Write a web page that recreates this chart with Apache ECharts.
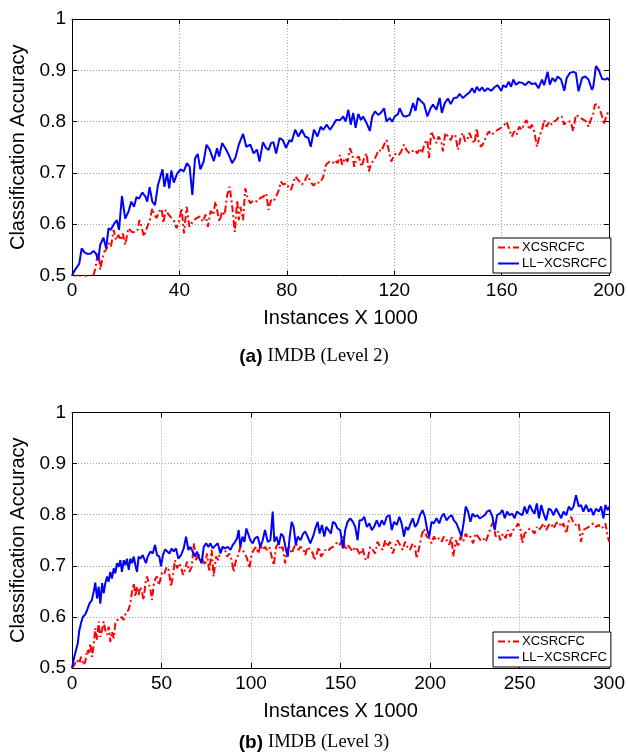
<!DOCTYPE html>
<html>
<head>
<meta charset="utf-8">
<script src="https://cdn.jsdelivr.net/npm/echarts@6/dist/echarts.min.js"></script>
<style>
  html, body { margin: 0; padding: 0; background: #fff; }
  #chart { width: 628px; height: 754px; }
</style>
</head>
<body>
<div id="chart"></div>
<script>
  // names and ticks
  var seriesNames = ['XCSRCFC', 'LL−XCSRCFC']
  var level2Ticks = [0, 40, 80, 120, 160, 200]
  var level3Ticks = [0, 50, 100, 150, 200, 250, 300]
  var accuracyTicks = [0.5, 0.6, 0.7, 0.8, 0.9, 1]

  // (a) IMDB Level 2 : [instances x 1000, accuracy]
  var level2Xcs = [
    [0, 0.49], [1.5, 0.5], [3, 0.497], [4.5, 0.5], [6, 0.495], [7.5, 0.49],
    [8.7, 0.514], [9.3, 0.534], [9.9, 0.546], [10.5, 0.511], [11.1, 0.527], [12, 0.546], [12.7, 0.55],
    [13.6, 0.563], [14.5, 0.556], [15.5, 0.589], [16.4, 0.569], [17.3, 0.579], [18.2, 0.569], [18.9, 0.582],
    [19.8, 0.56], [21, 0.592], [22.3, 0.585], [23.5, 0.584], [24.4, 0.589], [25.1, 0.608], [26, 0.592],
    [26.8, 0.576], [27.8, 0.592], [29, 0.608], [29.9, 0.631], [30.7, 0.618], [31.5, 0.612], [32.5, 0.625],
    [33.4, 0.63], [34, 0.602], [34.9, 0.628], [35.9, 0.619], [37.1, 0.612], [37.9, 0.608], [38.9, 0.592],
    [39.8, 0.605], [40.8, 0.631], [41.7, 0.582], [42.7, 0.634], [43.7, 0.595], [44.9, 0.605], [46.4, 0.612],
    [47.6, 0.615], [48.8, 0.605], [49.7, 0.619], [50.6, 0.595], [51.6, 0.626], [52.6, 0.618], [53.4, 0.644],
    [54, 0.628], [54.9, 0.605], [55.9, 0.625], [56.8, 0.618], [57.8, 0.657], [58.7, 0.673], [59.6, 0.638],
    [60.6, 0.585], [61.5, 0.647], [62.1, 0.608], [62.7, 0.634], [63.7, 0.608], [64.5, 0.67], [65.4, 0.651],
    [66.4, 0.641], [67.6, 0.647], [68.9, 0.644], [70.1, 0.651], [71.3, 0.654], [72.3, 0.66], [73.2, 0.628],
    [74.1, 0.647], [75, 0.644], [76, 0.654], [76.9, 0.665], [77.8, 0.683], [78.7, 0.677], [79.7, 0.68],
    [80.6, 0.673], [81.5, 0.667], [82.2, 0.677], [83.1, 0.693], [84.3, 0.686], [85.6, 0.677], [86.8, 0.686],
    [87.7, 0.696], [88.7, 0.684], [89.9, 0.675], [91.1, 0.683], [92.1, 0.68], [93.4, 0.69], [94.6, 0.716],
    [95.8, 0.722], [97.1, 0.719], [97.9, 0.725], [98.9, 0.719], [99.8, 0.735], [100.6, 0.716], [101.6, 0.729],
    [102.6, 0.722], [103.5, 0.748], [104.4, 0.735], [105.1, 0.712], [106, 0.729], [106.8, 0.732], [107.8, 0.712],
    [108.8, 0.729], [109.7, 0.738], [110.5, 0.703], [111.5, 0.719], [112.5, 0.725], [113.4, 0.735], [114.2, 0.745],
    [115.2, 0.742], [116.2, 0.755], [117.1, 0.764], [117.9, 0.745], [118.9, 0.722], [119.9, 0.735], [120.8, 0.738],
    [121.7, 0.735], [122.6, 0.742], [123.6, 0.755], [124.5, 0.745], [125.7, 0.738], [126.6, 0.742], [127.6, 0.745],
    [128.6, 0.738], [129.5, 0.748], [130.3, 0.738], [131.3, 0.758], [132.3, 0.764], [132.9, 0.729], [133.8, 0.781],
    [134.8, 0.768], [135.7, 0.758], [136.5, 0.771], [137.5, 0.761], [138.1, 0.742], [139, 0.778], [140, 0.771],
    [141, 0.764], [141.8, 0.774], [142.7, 0.774], [143.7, 0.745], [144.7, 0.768], [145.5, 0.778], [146.4, 0.761],
    [147.4, 0.768], [148, 0.778], [149, 0.764], [149.9, 0.758], [150.7, 0.787], [151.4, 0.761], [152.3, 0.751],
    [153.2, 0.758], [154.2, 0.771], [155.2, 0.781], [156.1, 0.774], [157.3, 0.779], [158.5, 0.784], [159.8, 0.788],
    [161, 0.794], [161.8, 0.8], [162.8, 0.784], [163.8, 0.771], [164.7, 0.781], [165.5, 0.774], [166.5, 0.79],
    [167.5, 0.784], [168.4, 0.797], [169.2, 0.803], [170.3, 0.784], [171.2, 0.794], [172.1, 0.781], [173.1, 0.751],
    [174, 0.771], [175, 0.784], [175.8, 0.803], [176.7, 0.79], [177.7, 0.8], [178.7, 0.794], [179.5, 0.8],
    [180.4, 0.803], [181.4, 0.81], [182.4, 0.81], [183.2, 0.794], [184.1, 0.8], [184.8, 0.797], [185.7, 0.8],
    [186.6, 0.781], [187.6, 0.813], [188.6, 0.81], [189.4, 0.807], [190.7, 0.803], [191.5, 0.8], [192.3, 0.79],
    [193.1, 0.803], [194, 0.813], [194.7, 0.833], [195.6, 0.834], [196.5, 0.823], [197.4, 0.81], [198, 0.794],
    [198.9, 0.81], [200, 0.823]
  ]
  var level2Ll = [
    [0, 0.5], [1, 0.51], [2.7, 0.523], [3.6, 0.553], [4.6, 0.545], [5.8, 0.542], [7, 0.543], [8, 0.548],
    [8.9, 0.543], [9.8, 0.53], [10.5, 0.56], [11.7, 0.574], [12.7, 0.553], [13.6, 0.592], [14.4, 0.589],
    [15.7, 0.601], [16.7, 0.608], [17.5, 0.589], [18.6, 0.655], [19.8, 0.611], [21, 0.624], [22.1, 0.644],
    [23.1, 0.634], [24, 0.653], [25, 0.65], [26.2, 0.662], [27.4, 0.653], [28, 0.644], [28.9, 0.672],
    [29.9, 0.644], [30.9, 0.637], [32, 0.676], [32.7, 0.673], [33.7, 0.707], [34.4, 0.673], [35.4, 0.699],
    [36.2, 0.67], [37, 0.705], [37.9, 0.681], [39.1, 0.698], [40.4, 0.707], [41.6, 0.703], [42.8, 0.719],
    [43.8, 0.712], [44.8, 0.657], [45.8, 0.728], [46.8, 0.737], [47.8, 0.707], [49, 0.722], [50.1, 0.755],
    [51.3, 0.745], [52.8, 0.723], [54, 0.748], [54.8, 0.732], [55.9, 0.758], [57.1, 0.748], [58.4, 0.735],
    [59.6, 0.719], [60.8, 0.729], [62.1, 0.755], [63.7, 0.776], [64.9, 0.751], [66.4, 0.755], [67.6, 0.738],
    [68.9, 0.745], [69.8, 0.722], [71.1, 0.76], [72.3, 0.748], [73.2, 0.745], [74.1, 0.758], [75, 0.76],
    [76, 0.738], [77.3, 0.768], [78.5, 0.764], [79.7, 0.749], [81, 0.764], [81.8, 0.761], [83.1, 0.784],
    [84.3, 0.771], [85.6, 0.784], [86.8, 0.771], [88, 0.768], [88.9, 0.751], [90.1, 0.784], [91.4, 0.771],
    [92.6, 0.79], [93.6, 0.784], [94.8, 0.794], [96.1, 0.784], [97.3, 0.794], [98.3, 0.803], [99.8, 0.803],
    [101, 0.81], [101.9, 0.8], [102.9, 0.823], [103.8, 0.794], [104.7, 0.817], [105.6, 0.788], [106.6, 0.815],
    [107.6, 0.803], [108.4, 0.81], [109.7, 0.797], [110.9, 0.782], [111.8, 0.81], [112.8, 0.82], [114, 0.813],
    [115, 0.817], [116.2, 0.826], [117.1, 0.8], [118.3, 0.807], [119.2, 0.8], [120.2, 0.81], [121.4, 0.815],
    [122, 0.826], [123.3, 0.811], [124.5, 0.81], [125.7, 0.813], [127, 0.836], [127.9, 0.821], [128.8, 0.846],
    [130.1, 0.839], [131.1, 0.834], [132.3, 0.81], [133.5, 0.826], [134.4, 0.833], [135.7, 0.823], [136.9, 0.846],
    [137.7, 0.817], [138.8, 0.836], [140, 0.845], [141, 0.834], [142.2, 0.846], [143.4, 0.847], [144.3, 0.854],
    [145.5, 0.846], [146.8, 0.852], [148, 0.857], [149, 0.865], [149.9, 0.856], [150.7, 0.868], [151.7, 0.86],
    [152.7, 0.867], [153.6, 0.859], [154.8, 0.865], [156.1, 0.86], [157.3, 0.867], [158.5, 0.871], [159.8, 0.86],
    [160.6, 0.871], [161.6, 0.867], [162.6, 0.878], [163.5, 0.868], [164.3, 0.882], [165.3, 0.872], [166.5, 0.877],
    [167.8, 0.875], [168.8, 0.871], [170, 0.878], [171.3, 0.873], [172.5, 0.875], [173.7, 0.865], [175, 0.882],
    [175.8, 0.871], [177.1, 0.897], [177.9, 0.872], [178.9, 0.885], [179.9, 0.878], [180.8, 0.888], [182.1, 0.882],
    [183.3, 0.86], [184.2, 0.885], [185.4, 0.895], [186.7, 0.897], [187.6, 0.895], [188.6, 0.859], [189.9, 0.885],
    [191.1, 0.888], [192.3, 0.882], [193.6, 0.862], [194.1, 0.868], [195.1, 0.908], [196.1, 0.901], [197.4, 0.883],
    [198.6, 0.882], [199.4, 0.885], [200, 0.88]
  ]

  // (b) IMDB Level 3
  var level3Xcs = [
    [0, 0.5], [1.3, 0.506], [2.8, 0.516], [4.1, 0.509], [5, 0.522], [6.3, 0.506], [7.4, 0.512], [8.4, 0.535],
    [9.3, 0.529], [10.2, 0.548], [11.2, 0.522], [12.1, 0.545], [13, 0.578], [14, 0.555], [14.9, 0.591],
    [15.8, 0.561], [16.8, 0.574], [17.7, 0.591], [18.6, 0.574], [19.6, 0.565], [20.5, 0.581], [21.4, 0.551],
    [22.3, 0.571], [23.3, 0.558], [24.2, 0.587], [25.1, 0.594], [26.4, 0.594], [27.7, 0.6], [28.9, 0.594],
    [30.2, 0.61], [31.5, 0.613], [32.6, 0.626], [33.5, 0.649], [34.5, 0.666], [35.4, 0.64], [36.3, 0.659],
    [37.2, 0.643], [38.2, 0.659], [39.1, 0.649], [40, 0.633], [41, 0.666], [41.9, 0.679], [42.8, 0.682],
    [43.8, 0.653], [44.7, 0.633], [45.6, 0.662], [46.6, 0.675], [47.5, 0.679], [48.4, 0.662], [49.3, 0.672],
    [50.3, 0.688], [51.6, 0.685], [52.9, 0.698], [54, 0.692], [55.3, 0.659], [56.4, 0.682], [57.5, 0.711],
    [58.7, 0.695], [59.8, 0.705], [60.9, 0.698], [62, 0.682], [63.1, 0.692], [64.2, 0.708], [65.5, 0.688],
    [66.9, 0.698], [68, 0.744], [69.3, 0.711], [70.6, 0.724], [71.7, 0.714], [73, 0.711], [74.3, 0.701],
    [75.4, 0.724], [76.7, 0.688], [78, 0.731], [79.1, 0.679], [80.4, 0.718], [81.8, 0.711], [82.9, 0.731],
    [84.2, 0.737], [85.5, 0.731], [86.6, 0.718], [87.9, 0.724], [89.2, 0.711], [90.3, 0.688], [91.6, 0.711],
    [92.9, 0.721], [94, 0.737], [95.3, 0.731], [96.6, 0.724], [97.8, 0.714], [99.1, 0.695], [100.4, 0.724],
    [101.5, 0.731], [102.8, 0.737], [104.1, 0.724], [105.2, 0.741], [106.5, 0.731], [107.8, 0.737], [108.9, 0.731],
    [110.2, 0.737], [111.5, 0.718], [112.7, 0.701], [114, 0.737], [115.3, 0.744], [116.4, 0.731], [117.7, 0.737],
    [119, 0.705], [120.1, 0.731], [121.4, 0.737], [122.7, 0.724], [123.8, 0.734], [125.1, 0.744], [126.4, 0.731],
    [127.6, 0.737], [129.1, 0.734], [130.3, 0.721], [131.6, 0.737], [133.1, 0.731], [134.6, 0.724], [135.3, 0.711],
    [136.5, 0.721], [137.8, 0.737], [139.1, 0.718], [140.2, 0.724], [141.5, 0.731], [142.8, 0.728], [144.2, 0.734],
    [145.7, 0.737], [147, 0.741], [148.3, 0.747], [149.8, 0.741], [151.3, 0.757], [152.6, 0.731], [153.9, 0.741],
    [155.4, 0.734], [156.9, 0.728], [158.2, 0.737], [159.5, 0.731], [160.9, 0.721], [162.4, 0.734], [163.7, 0.714],
    [165, 0.711], [166.5, 0.737], [168, 0.731], [169.3, 0.724], [170.6, 0.747], [172.1, 0.737], [173.6, 0.731],
    [174.9, 0.75], [176.2, 0.737], [177.6, 0.747], [179.1, 0.724], [180.4, 0.737], [181.7, 0.75], [183.2, 0.741],
    [184.7, 0.731], [186, 0.747], [187.3, 0.737], [188.8, 0.731], [190.3, 0.744], [191.6, 0.737], [192.5, 0.714],
    [194, 0.737], [195.3, 0.76], [196.6, 0.773], [198.1, 0.757], [199.5, 0.754], [200.8, 0.744], [202.1, 0.757],
    [203.6, 0.75], [205.1, 0.754], [206.4, 0.747], [207.7, 0.757], [209.2, 0.75], [210.7, 0.741], [212, 0.757],
    [212.9, 0.718], [214.4, 0.75], [215.7, 0.737], [217, 0.757], [218.5, 0.747], [219.9, 0.763], [221.2, 0.754],
    [222.5, 0.757], [224, 0.744], [225.5, 0.763], [226.8, 0.757], [228.1, 0.75], [229.6, 0.754], [231.1, 0.747],
    [232.4, 0.76], [233.7, 0.773], [235.2, 0.786], [236.6, 0.757], [237.9, 0.767], [239.2, 0.75], [240.7, 0.763],
    [242.2, 0.754], [243.5, 0.77], [244.8, 0.757], [246.3, 0.77], [247.8, 0.773], [249.1, 0.783], [250.4, 0.773],
    [251.5, 0.744], [252.8, 0.763], [254.1, 0.767], [255.6, 0.773], [257, 0.77], [258.3, 0.763], [259.6, 0.776],
    [260.8, 0.77], [262.1, 0.776], [263.4, 0.783], [264.8, 0.77], [266.3, 0.78], [267.6, 0.783], [268.9, 0.773],
    [270.4, 0.783], [271.9, 0.786], [273.2, 0.776], [274.5, 0.783], [276, 0.763], [277.5, 0.789], [278.8, 0.796],
    [280.1, 0.783], [281.5, 0.78], [283, 0.783], [284.3, 0.747], [285.6, 0.77], [287.1, 0.773], [288.6, 0.776],
    [289.9, 0.78], [291.2, 0.783], [292.7, 0.776], [294.2, 0.78], [295.5, 0.773], [296.8, 0.776], [297.9, 0.783],
    [299.2, 0.757], [300, 0.747]
  ]
  var level3Ll = [
    [0, 0.5], [1.3, 0.522], [2.2, 0.525], [3.2, 0.548], [4.1, 0.574], [5, 0.587], [6, 0.6], [7.3, 0.604],
    [8.4, 0.613], [9.7, 0.626], [11, 0.632], [12.1, 0.649], [13, 0.667], [14, 0.636], [14.9, 0.659],
    [15.8, 0.626], [16.8, 0.666], [17.7, 0.646], [18.6, 0.666], [19.6, 0.679], [20.5, 0.669], [21.4, 0.688],
    [22.3, 0.675], [23.3, 0.695], [24.2, 0.685], [25.1, 0.705], [26.1, 0.698], [27, 0.711], [27.9, 0.688],
    [28.9, 0.711], [29.8, 0.701], [30.7, 0.714], [31.7, 0.692], [32.6, 0.714], [33.5, 0.705], [34.5, 0.718],
    [35.4, 0.701], [36.3, 0.688], [37.2, 0.718], [38.2, 0.714], [39.5, 0.721], [40.4, 0.724], [41.3, 0.705],
    [42.3, 0.718], [43.8, 0.728], [45.1, 0.724], [46.4, 0.741], [47.5, 0.721], [48.8, 0.718], [49.7, 0.699],
    [50.8, 0.721], [52, 0.732], [53.1, 0.734], [54.4, 0.724], [55.7, 0.734], [56.8, 0.728], [58.1, 0.734],
    [59.4, 0.714], [60.9, 0.721], [62.4, 0.734], [63.7, 0.757], [65, 0.731], [66.1, 0.737], [67.4, 0.728],
    [68.7, 0.718], [69.8, 0.728], [71.1, 0.714], [72.4, 0.705], [73.6, 0.737], [74.9, 0.744], [76.2, 0.737],
    [77.3, 0.744], [78.6, 0.734], [79.9, 0.739], [81.4, 0.744], [82.9, 0.724], [84.2, 0.737], [85.5, 0.734],
    [87, 0.737], [88.5, 0.731], [89.8, 0.741], [91.1, 0.747], [92.2, 0.754], [93.1, 0.77], [94, 0.737],
    [95.2, 0.757], [96.3, 0.747], [97.4, 0.773], [98.5, 0.776], [99.6, 0.75], [100.9, 0.744], [102.2, 0.754],
    [103.7, 0.757], [105.2, 0.737], [106.5, 0.75], [107.8, 0.77], [109.3, 0.747], [110.8, 0.75], [112.1, 0.806],
    [113, 0.747], [114.2, 0.757], [115.5, 0.741], [116.8, 0.763], [118.1, 0.757], [119.2, 0.737], [120.5, 0.718],
    [121.6, 0.757], [122.7, 0.786], [123.8, 0.776], [125, 0.741], [126.1, 0.757], [127.6, 0.75], [129.1, 0.763],
    [130.3, 0.767], [131.6, 0.757], [133.1, 0.744], [134.6, 0.757], [135.9, 0.773], [137.2, 0.786], [138.3, 0.763],
    [139.6, 0.78], [140.9, 0.757], [142, 0.776], [143.3, 0.77], [144.6, 0.763], [145.7, 0.786], [147, 0.783],
    [148.3, 0.773], [149.8, 0.77], [151.3, 0.734], [152.6, 0.77], [153.9, 0.786], [155.4, 0.793], [156.9, 0.786],
    [158.2, 0.776], [159.5, 0.75], [160.6, 0.789], [161.9, 0.789], [163.2, 0.796], [164.7, 0.776], [166.1, 0.783],
    [167.4, 0.77], [168.7, 0.776], [170.2, 0.789], [171.7, 0.776], [173, 0.789], [174.3, 0.78], [175.8, 0.796],
    [177.3, 0.799], [178.6, 0.77], [179.9, 0.786], [181.4, 0.78], [182.8, 0.796], [184.1, 0.783], [185.4, 0.757],
    [186.5, 0.776], [187.8, 0.77], [189.1, 0.783], [190.3, 0.793], [191.6, 0.776], [192.9, 0.783], [194.3, 0.799],
    [195.8, 0.809], [197.1, 0.796], [198.4, 0.77], [199.5, 0.757], [200.8, 0.786], [202.1, 0.783], [203.6, 0.793],
    [205.1, 0.783], [206.4, 0.796], [207.7, 0.802], [209.2, 0.789], [210.7, 0.796], [212, 0.799], [213.3, 0.789],
    [214.7, 0.783], [216.2, 0.77], [217.5, 0.757], [218.8, 0.786], [219.9, 0.816], [221.2, 0.806], [222.5, 0.786],
    [223.7, 0.802], [225, 0.796], [226.3, 0.799], [227.7, 0.793], [229.2, 0.796], [230.5, 0.799], [231.8, 0.806],
    [233.3, 0.809], [234.8, 0.796], [236.1, 0.77], [237.4, 0.799], [238.9, 0.802], [240.4, 0.809], [241.7, 0.793],
    [243, 0.806], [244.4, 0.799], [245.9, 0.802], [247.2, 0.793], [248.5, 0.806], [250, 0.802], [251.5, 0.799],
    [252.8, 0.816], [254.1, 0.802], [255.6, 0.819], [257, 0.809], [258.3, 0.802], [259.6, 0.822], [260.8, 0.793],
    [262.1, 0.819], [263.4, 0.802], [264.8, 0.789], [266.3, 0.812], [267.6, 0.809], [268.9, 0.799], [270.4, 0.812],
    [271.9, 0.802], [273.2, 0.793], [274.5, 0.806], [276, 0.799], [277.5, 0.816], [278.8, 0.809], [280.1, 0.816],
    [281.5, 0.838], [283, 0.816], [284.3, 0.819], [285.6, 0.806], [287.1, 0.819], [288.6, 0.806], [289.9, 0.812],
    [291.2, 0.799], [292.7, 0.812], [294.2, 0.806], [295.5, 0.816], [296.8, 0.793], [297.9, 0.819], [299.2, 0.809],
    [300, 0.816]
  ]

  var font = 'Liberation Sans, Arial, Helvetica, sans-serif'
  var redDash = [7, 3, 2, 3]

  // axes for one panel: bottom + top x, left + right y (matlab style box with ticks inside)
  function xAxes(gridIndex, ticks) {
    var common = {
      type: 'value', gridIndex: gridIndex,
      min: ticks[0], max: ticks[ticks.length - 1], interval: ticks[1] - ticks[0],
      axisLine: { show: true, onZero: false, lineStyle: { color: '#000', width: 1 } },
      axisTick: { show: true, inside: true, length: 5, lineStyle: { color: '#000' } }
    }
    return [
      Object.assign({}, common, {
        position: 'bottom',
        name: 'Instances X 1000', nameLocation: 'middle', nameGap: 33,
        nameTextStyle: { fontSize: 20, color: '#000', fontFamily: font },
        axisLabel: { fontSize: 19, color: '#000', margin: 6, fontFamily: font },
        splitLine: { show: true, lineStyle: { color: '#a0a0a0', width: 1, type: [1, 2] } }
      }),
      Object.assign({}, common, { position: 'top', axisLabel: { show: false }, splitLine: { show: false } })
    ]
  }
  function yAxes(gridIndex) {
    var common = {
      type: 'value', gridIndex: gridIndex,
      min: accuracyTicks[0], max: accuracyTicks[accuracyTicks.length - 1], interval: 0.1,
      axisLine: { show: true, onZero: false, lineStyle: { color: '#000', width: 1 } },
      axisTick: { show: true, inside: true, length: 5, lineStyle: { color: '#000' } }
    }
    return [
      Object.assign({}, common, {
        position: 'left',
        name: 'Classification Accuracy', nameLocation: 'middle', nameGap: 44,
        nameTextStyle: { fontSize: 20, color: '#000', fontFamily: font },
        axisLabel: {
          fontSize: 19, color: '#000', margin: 6, fontFamily: font,
          formatter: function (v) { return String(Math.round(v * 10) / 10) }
        },
        splitLine: { show: true, lineStyle: { color: '#a0a0a0', width: 1, type: [1, 2] } }
      }),
      Object.assign({}, common, { position: 'right', axisLabel: { show: false }, splitLine: { show: false } })
    ]
  }

  function lines(gridIndex, xcs, ll) {
    var base = { type: 'line', xAxisIndex: gridIndex * 2, yAxisIndex: gridIndex * 2, symbol: 'none', showSymbol: false, clip: true, z: 3 }
    return [
      Object.assign({}, base, { name: seriesNames[0], data: xcs, itemStyle: { color: '#ff0000' }, lineStyle: { color: '#ff0000', width: 2, type: redDash } }),
      Object.assign({}, base, { name: seriesNames[1], data: ll, itemStyle: { color: '#0000ff' }, lineStyle: { color: '#0000ff', width: 2 }, z: 4 })
    ]
  }

  function legendBox(top) {
    return {
      data: seriesNames, orient: 'vertical', left: 493, top: top,
      itemWidth: 21, itemHeight: 10, itemGap: 3,
      padding: [3, 4, 3, 4],
      borderColor: '#000', borderWidth: 1, backgroundColor: '#fff',
      itemStyle: { opacity: 0 }, // line only, no marker
      textStyle: { fontSize: 13, color: '#000', fontFamily: font, padding: [0, 0, 0, -2] },
      selectedMode: false
    }
  }

  function caption(letter, text, top) {
    return {
      left: 'center', top: top,
      text: '{b|(' + letter + ')} {s|' + text + '}',
      textStyle: {
        fontWeight: 'normal', fontFamily: font,
        rich: {
          b: { fontFamily: font, fontWeight: 'bold', fontSize: 19, color: '#000' },
          s: { fontFamily: 'Liberation Serif, serif', fontWeight: 'normal', fontSize: 18.5, color: '#000' }
        }
      }
    }
  }

  var myChart = echarts.init(document.getElementById('chart'))
  var option = {
    animation: false,
    backgroundColor: '#fff',
    title: [caption('a', 'IMDB (Level 2)', 342), caption('b', 'IMDB (Level 3)', 728)],
    legend: [legendBox(238), legendBox(632)],
    grid: [
      { left: 71, top: 19, width: 539, height: 256.5, containLabel: false },
      { left: 71, top: 412.5, width: 539, height: 255.5, containLabel: false }
    ],
    xAxis: xAxes(0, level2Ticks).concat(xAxes(1, level3Ticks)),
    yAxis: yAxes(0).concat(yAxes(1)),
    series: lines(0, level2Xcs, level2Ll).concat(lines(1, level3Xcs, level3Ll))
  }
  myChart.setOption(option)
</script>
</body>
</html>
